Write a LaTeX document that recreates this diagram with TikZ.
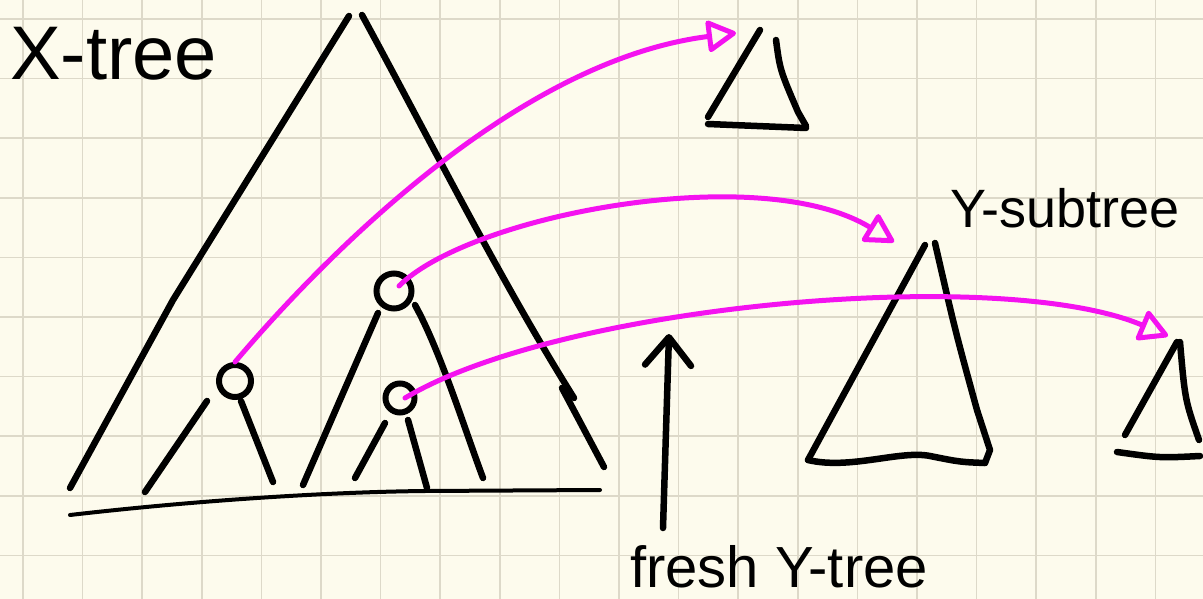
\documentclass[tikz,border=0pt]{standalone}
\usepackage{fontspec}
\setmainfont{Liberation Sans}
\usetikzlibrary{arrows.meta, calc}
\usepackage{xcolor}
\definecolor{Paper}{HTML}{FDFBED}
\definecolor{Grid}{HTML}{DDD9C9}
\definecolor{Ink}{HTML}{000000}
\definecolor{Pink}{HTML}{F412F0}

\begin{document}
\begin{tikzpicture}[
            x=1pt, y=-1pt,
            inkline/.style={
                line width=6.5pt,
                line cap=round,
                line join=round,
                color=Ink
            },
            thinline/.style={inkline, line width=4pt},
            gridline/.style={line width=1.6pt, color=Grid},
            knot/.style={
                circle,
                draw=Ink,
                line width=6pt,
                inner sep=0pt,
                minimum size=32pt
            },
            hop/.style={
                line width=5pt,
                line cap=round,
                color=Pink,
                -{Triangle[open, round, length=32pt, width=34pt]}
            },
            hand/.style={inner sep=0pt, anchor=base west, text=Ink}
        ]
            % Paper and grid
            \fill[Paper] (0,0) rectangle (1203,599);
            \useasboundingbox (0,0) rectangle (1203,599);
            \foreach \i in {0,...,19}
                \draw[gridline] (23+59.6*\i,0) -- (23+59.6*\i,599);
            \foreach \j in {0,...,9}
                \draw[gridline] (0,19+59.6*\j) -- (1203,19+59.6*\j);

            % Labels
            \node[hand, font=\fontsize{76}{84}\selectfont] (xname) at (10,80) {X-tree};
            \node[hand, font=\fontsize{54}{60}\selectfont] (yname) at (950,228) {Y-subtree};
            \node[hand, font=\fontsize{58}{64}\selectfont] (freshname) at (630,587) {fresh Y-tree};

            % X-tree outline
            \draw[inkline] (349,16) -- (173,300) -- (70,488);
            \draw[inkline] (362,15) .. controls (430,140) and (500,280) .. (574,398);
            \draw[inkline] (562,388) -- (604,467);
            \draw[thinline] (70,515) .. controls (200,500) and (330,492) .. (425,491) -- (600,490);

            % Inner nodes and branches
            \node[knot] (lknot) at (235,381) {};
            \node[knot, minimum size=35pt] (mknot) at (394,291) {};
            \node[knot, minimum size=29pt] (sknot) at (400,398) {};
            \draw[inkline] (207,401) -- (145,492);
            \draw[inkline] (241,401) -- (273,482);
            \draw[inkline] (378,313) -- (340,400) -- (303,485);
            \draw[inkline] (415,305) .. controls (440,350) and (465,430) .. (483,478);
            \draw[inkline] (385,423) -- (355,478);
            \draw[inkline] (408,420) -- (427,488);

            % Subtrees of Y
            \draw[inkline] (760,30) -- (708,117);
            \draw[inkline] (776,40) .. controls (780,70) .. (798,112) -- (806,126);
            \draw[inkline] (708,124) -- (806,128);
            \draw[inkline] (925,245) -- (808,460);
            \draw[inkline] (935,243) .. controls (955,330) .. (977,410) -- (990,450) -- (985,463);
            \draw[inkline] (808,460) .. controls (850,470) and (900,450) .. (930,456)
                .. controls (960,462) .. (985,463);
            \draw[inkline] (1177,342) -- (1125,435);
            \draw[inkline] (1180,342) .. controls (1185,400) .. (1199,440);
            \draw[inkline] (1117,452) .. controls (1160,458) .. (1200,456);

            \coordinate (topdst) at (736,33);
            \coordinate (ydst) at (894,242);
            \coordinate (rdst) at (1168,336);
            \coordinate (fbot) at (663,528);
            \coordinate (ftop) at (669,334);

            % Pointer to the fresh tree
            \draw[inkline, -{Straight Barb[round, length=28pt, width=46pt]}] (fbot) -- (ftop);

            % Copy arrows
            \draw[hop] (lknot.north) .. controls (330,250) and (520,60) .. (topdst);
            \draw[hop] ($(mknot.center)+(5,-5)$) .. controls (470,215) and (760,160) .. (ydst);
            \draw[hop] ($(sknot.center)+(5,0)$) .. controls (560,305) and (1000,265) .. (rdst);
        \end{tikzpicture}
\end{document}
